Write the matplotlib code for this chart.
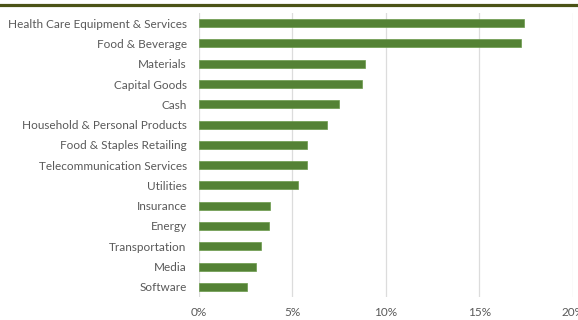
import matplotlib
matplotlib.use("Agg")
import matplotlib.pyplot as plt
from matplotlib.lines import Line2D
from matplotlib.ticker import FuncFormatter

# ── Data ─────────────────────────────────────────────────────────────────────
sectors = [
    "Health Care Equipment & Services",
    "Food & Beverage",
    "Materials",
    "Capital Goods",
    "Cash",
    "Household & Personal Products",
    "Food & Staples Retailing",
    "Telecommunication Services",
    "Utilities",
    "Insurance",
    "Energy",
    "Transportation",
    "Media",
    "Software",
]
weights = [17.4, 17.2, 8.87, 8.73, 7.51, 6.87, 5.81, 5.77, 5.31, 3.82, 3.75, 3.36, 3.07, 2.60]
x_ticks = [0, 5, 10, 15, 20]

W, H = 578, 320
fig = plt.figure(figsize=(W / 100, H / 100), dpi=100, facecolor="white")
ax = fig.add_axes([198.5 / W, 1 - 297 / H, (573 - 198.5) / W, (297 - 13) / H])

text_color = "#595959"
font = ["Lato", "DejaVu Sans"]

ax.barh(range(len(sectors)), weights, height=0.4, color="#548235",
        edgecolor="#6a9a4a", linewidth=0.5, zorder=3)

ax.set_xlim(0, 20)
ax.set_ylim(len(sectors) - 0.5, -0.5)
ax.set_xticks(x_ticks)
ax.xaxis.set_major_formatter(FuncFormatter(lambda v, _: f"{v:.0f}%"))
ax.set_yticks(range(len(sectors)))
ax.set_yticklabels(sectors)

ax.grid(axis="x", color="#dcdcdc", linewidth=0.9, zorder=0)
for s in ax.spines.values():
    s.set_visible(False)
ax.tick_params(length=0, colors=text_color, labelsize=8.5)
ax.tick_params(axis="y", pad=8.5)
ax.tick_params(axis="x", pad=7.5)
for lbl in ax.get_xticklabels() + ax.get_yticklabels():
    lbl.set_family(font)

# dark rule across the top
fig.add_artist(Line2D([0, 1], [1 - 4.5 / H, 1 - 4.5 / H], transform=fig.transFigure,
                      color="#4b5316", linewidth=2.3))

fig.savefig("out.png", dpi=100, facecolor="white")
